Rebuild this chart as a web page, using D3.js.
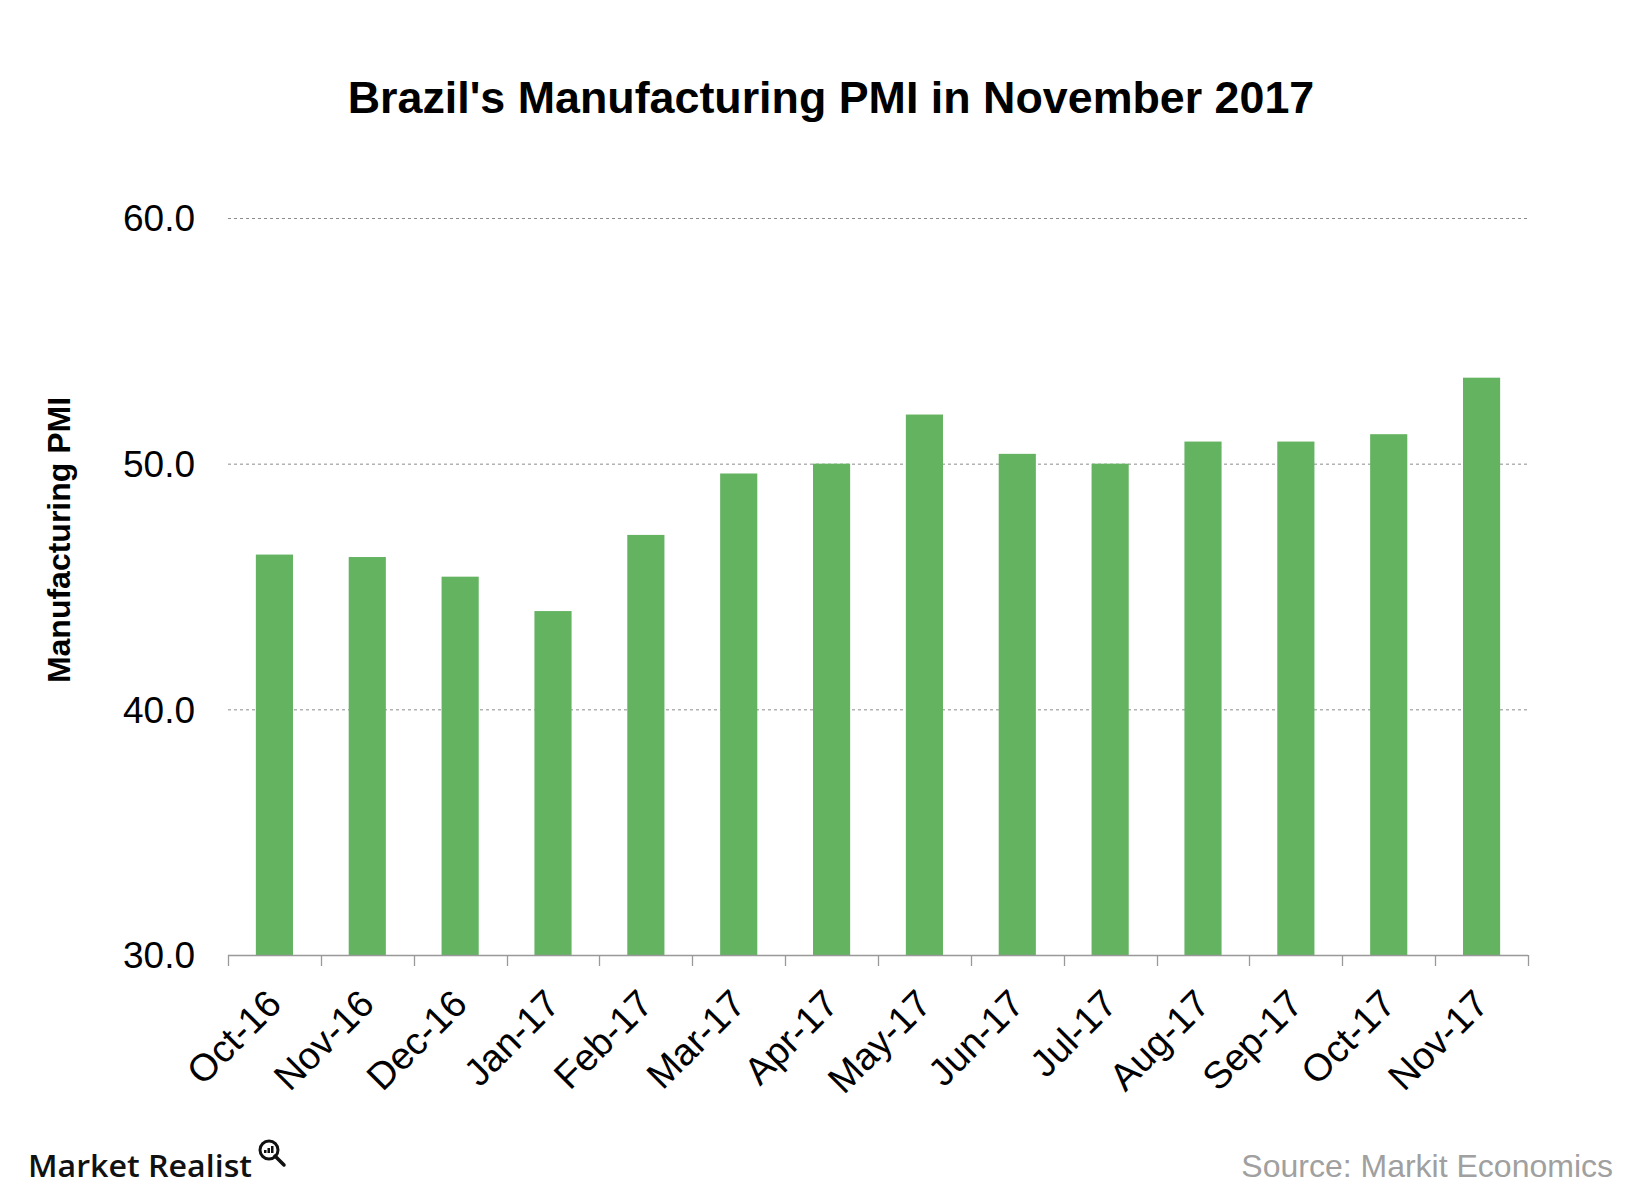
<!DOCTYPE html>
<html>
<head>
<meta charset="utf-8">
<script src="https://cdn.jsdelivr.net/npm/d3@7"></script>
<style>
  html, body { margin: 0; padding: 0; background: #fff; }
  svg { display: block; }
</style>
</head>
<body>
<svg id="chart" width="1650" height="1203"></svg>
<script>
const categories = ["Oct-16","Nov-16","Dec-16","Jan-17","Feb-17","Mar-17","Apr-17","May-17","Jun-17","Jul-17","Aug-17","Sep-17","Oct-17","Nov-17"];
const pmiValues = [46.3, 46.2, 45.4, 44.0, 47.1, 49.6, 50.0, 52.0, 50.4, 50.0, 50.9, 50.9, 51.2, 53.5];
const yTicks = [30, 40, 50, 60];
const titleText = "Brazil's Manufacturing PMI in November 2017";
const yAxisTitle = "Manufacturing PMI";
const sourceText = "Source: Markit Economics";
const brandText = "Market Realist";

const svg = d3.select("#chart");
const plotLeft = 228, plotRight = 1528, plotTop = 218, plotBottom = 955;

const x = d3.scaleBand().domain(categories).range([plotLeft, plotRight]).paddingInner(0.6).paddingOuter(0.3);
const y = d3.scaleLinear().domain([30, 60]).range([plotBottom, plotTop]);

// Title
svg.append("text")
  .attr("x", 831).attr("y", 113)
  .attr("text-anchor", "middle")
  .attr("font-family", "Liberation Sans, Arial, sans-serif")
  .attr("font-weight", "bold")
  .attr("font-size", 44.8)
  .attr("fill", "#000")
  .text(titleText);

// Gridlines
svg.append("g").selectAll("line").data(yTicks.filter(d => d !== 30)).join("line")
  .attr("x1", plotLeft).attr("x2", plotRight)
  .attr("y1", d => y(d) + 0.5).attr("y2", d => y(d) + 0.5)
  .attr("stroke", "#8c8c8c").attr("stroke-width", 1)
  .attr("stroke-dasharray", "3,3");

// Y tick labels
svg.append("g").selectAll("text").data(yTicks).join("text")
  .attr("x", 195).attr("y", d => y(d))
  .attr("dy", "0.36em")
  .attr("text-anchor", "end")
  .attr("font-family", "Liberation Sans, Arial, sans-serif")
  .attr("font-size", 37)
  .attr("fill", "#000")
  .text(d => d3.format(".1f")(d));

// Bars
svg.append("g").selectAll("rect").data(pmiValues).join("rect")
  .attr("x", (d, i) => x(categories[i]))
  .attr("width", x.bandwidth())
  .attr("y", d => y(d))
  .attr("height", d => y(30) - y(d))
  .attr("fill", "#63b360");

// X axis line and ticks at band boundaries
const boundaries = d3.range(categories.length + 1).map(i => x.range()[0] + i * x.step());
svg.append("line")
  .attr("x1", plotLeft).attr("x2", plotRight)
  .attr("y1", plotBottom + 0.5).attr("y2", plotBottom + 0.5)
  .attr("stroke", "#999").attr("stroke-width", 1.3);
svg.append("g").selectAll("line").data(boundaries).join("line")
  .attr("x1", d => Math.round(d) + 0.5).attr("x2", d => Math.round(d) + 0.5)
  .attr("y1", plotBottom).attr("y2", plotBottom + 11)
  .attr("stroke", "#999").attr("stroke-width", 1.3);

// X labels rotated
svg.append("g").selectAll("text").data(categories).join("text")
  .attr("transform", d => `translate(${x(d) + x.bandwidth() / 2 + 9},${plotBottom + 51}) rotate(-45)`)
  .attr("text-anchor", "end")
  .attr("font-family", "Liberation Sans, Arial, sans-serif")
  .attr("font-size", 38)
  .attr("fill", "#000")
  .text(d => d);

// Y axis title
svg.append("text")
  .attr("transform", "translate(70,540) rotate(-90)")
  .attr("text-anchor", "middle")
  .attr("font-family", "Liberation Sans, Arial, sans-serif")
  .attr("font-weight", "bold")
  .attr("font-size", 32)
  .attr("fill", "#000")
  .text(yAxisTitle);

// Source
svg.append("text")
  .attr("x", 1613).attr("y", 1177)
  .attr("text-anchor", "end")
  .attr("font-family", "Liberation Sans, Arial, sans-serif")
  .attr("font-size", 32)
  .attr("fill", "#a0a0a0")
  .text(sourceText);

// Brand
svg.append("text")
  .attr("x", 28).attr("y", 1177)
  .attr("font-family", "Open Sans, sans-serif")
  .attr("font-weight", 600)
  .attr("font-size", 31)
  .attr("textLength", 224)
  .attr("lengthAdjust", "spacingAndGlyphs")
  .attr("fill", "#111")
  .text(brandText);
const logo = svg.append("g").attr("transform", "translate(269,1150)");
logo.append("circle").attr("r", 9).attr("fill", "none").attr("stroke", "#111").attr("stroke-width", 3);
logo.append("line").attr("x1", 6).attr("y1", 6).attr("x2", 15).attr("y2", 15).attr("stroke", "#111").attr("stroke-width", 3.5).attr("stroke-linecap", "round");
logo.append("rect").attr("x", -5).attr("y", 0).attr("width", 2.5).attr("height", 3).attr("fill", "#111");
logo.append("rect").attr("x", -1.5).attr("y", -2).attr("width", 2.5).attr("height", 5).attr("fill", "#111");
logo.append("rect").attr("x", 2).attr("y", -4).attr("width", 2.5).attr("height", 7).attr("fill", "#111");
</script>
</body>
</html>
